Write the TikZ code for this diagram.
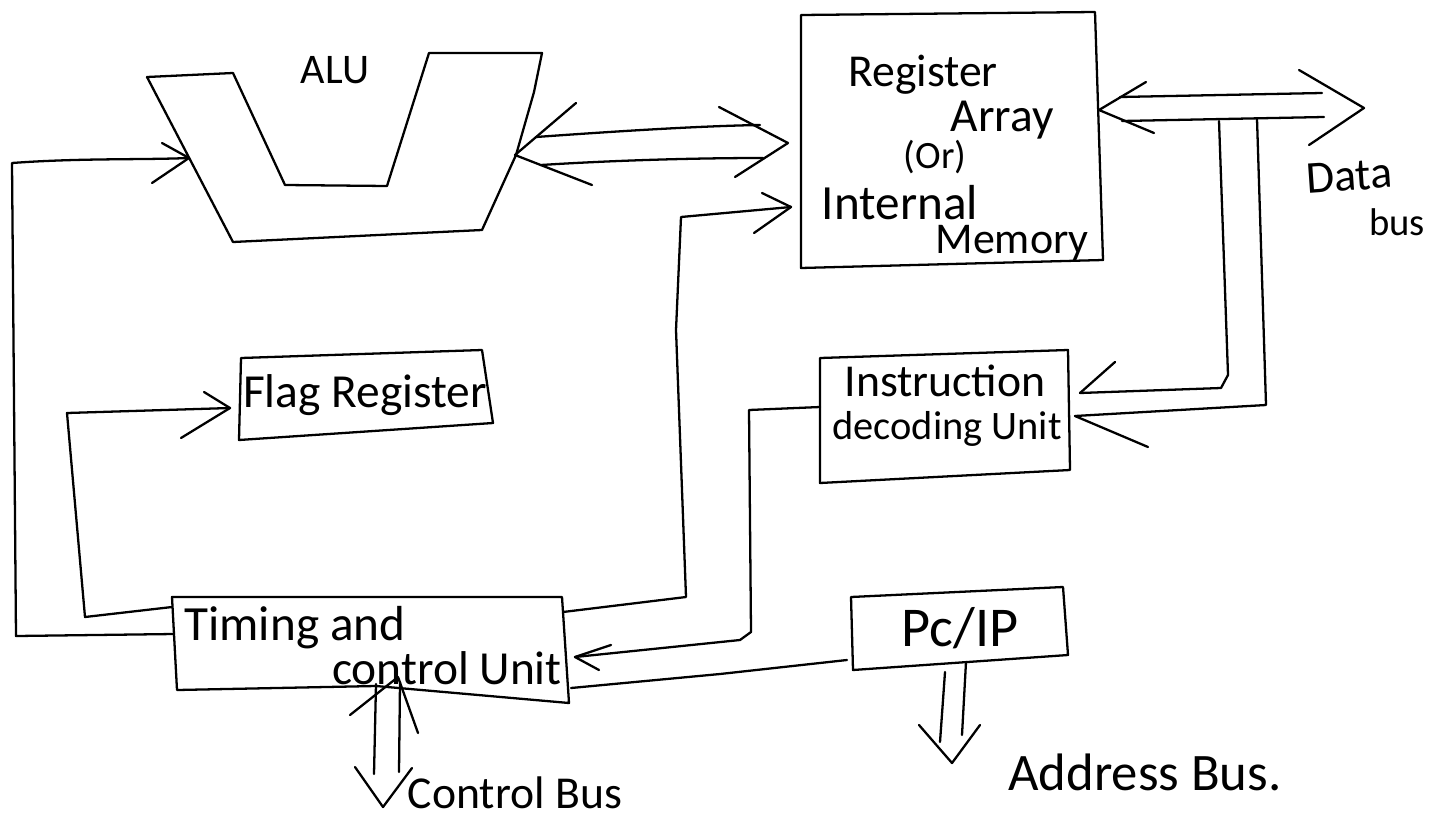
\documentclass[tikz,border=0pt]{standalone}
\usepackage{fontspec}
\setmainfont{Carlito}
\begin{document}
\begin{tikzpicture}[x=0.02cm,y=-0.02cm,
  pen/.style={line width=1.3pt,line join=round,line cap=round},
  lbl/.style={inner sep=0pt,font=\fontsize{#1}{#1}\selectfont},
]
\fill[white] (0,0) rectangle (1439,818);
\useasboundingbox (0,0) rectangle (1439,818);

% ---------- block outlines (corner points, slightly hand-skewed) ----------
% ALU
\coordinate (alu1) at (147,77);  \coordinate (alu2) at (233,73);
\coordinate (alu3) at (285,185); \coordinate (alu4) at (387,186);
\coordinate (alu5) at (429,53);  \coordinate (alu6) at (542,53);
\coordinate (alu7) at (534,92);  \coordinate (aluR) at (516,155);
\coordinate (alu8) at (482,230); \coordinate (alu9) at (233,242);
\coordinate (aluL) at (189,158);
\draw[pen] (alu1) -- (alu2) -- (alu3) -- (alu4) -- (alu5) -- (alu6)
  -- (alu7) -- (aluR) -- (alu8) -- (alu9) -- cycle;

% Register array
\coordinate (reg1) at (801,15);  \coordinate (reg2) at (1095,12);
\coordinate (reg3) at (1103,260); \coordinate (reg4) at (801,268);
\draw[pen] (reg1) -- (reg2) -- (reg3) -- (reg4) -- cycle;

% Flag register
\coordinate (flg1) at (241,358); \coordinate (flg2) at (482,350);
\coordinate (flg3) at (493,423); \coordinate (flg4) at (239,440);
\draw[pen] (flg1) -- (flg2) -- (flg3) -- (flg4) -- cycle;

% Timing and control unit
\coordinate (tcu1) at (172,597); \coordinate (tcu2) at (562,597);
\coordinate (tcu3) at (569,703); \coordinate (tcu5) at (376,686);
\coordinate (tcu4) at (177,690);
\draw[pen] (tcu1) -- (tcu2) -- (tcu3) -- (tcu5) -- (tcu4) -- cycle;

% Instruction decoding unit
\coordinate (idu1) at (820,358); \coordinate (idu2) at (1068,350);
\coordinate (idu3) at (1070,470); \coordinate (idu4) at (820,483);
\draw[pen] (idu1) -- (idu2) -- (idu3) -- (idu4) -- cycle;

% PC / IP
\coordinate (pc1) at (851,597); \coordinate (pc2) at (1063,587);
\coordinate (pc3) at (1068,655); \coordinate (pc4) at (853,670);
\draw[pen] (pc1) -- (pc2) -- (pc3) -- (pc4) -- cycle;

% ---------- labels ----------
\node[lbl=24] (alulbl) at (335,70) {ALU};
\node[lbl=26] (regA) at (923,75) {Register};
\node[lbl=27] (regB) at (1002,120) {Array};
\node[lbl=22] (regC) at (935,157) {(Or)};
\node[lbl=28] (regD) at (900,203) {Internal};
\node[lbl=25] (regE) at (1012,243) {Memory};
\node[lbl=27] (flaglbl) at (365,395) {Flag Register};
\node[lbl=28] (tim1) at (295,628) {Timing and};
\node[lbl=27] (tim2) at (447,668) {control Unit};
\node[lbl=26] (ins1) at (945,381) {Instruction};
\node[lbl=23] (ins2) at (947,429) {decoding Unit};
\node[lbl=32] (pclbl) at (960,628) {Pc/IP};
\node[lbl=30] (addrlbl) at (1145,772) {Address Bus.};
\node[lbl=26] (ctrllbl) at (515,793) {Control Bus};
\node[lbl=26,rotate=4] (data1) at (1349,176) {Data};
\node[lbl=22] (data2) at (1397,222) {bus};

% ---------- ALU <-> register array bus ----------
\coordinate (abL) at (515,155);
\coordinate (abLu) at (576,103); \coordinate (abLd) at (592,185);
\coordinate (abR) at (788,143);
\coordinate (abRu) at (719,107); \coordinate (abRd) at (735,177);
\draw[pen] (abLu) -- (abL) -- (abLd);
\draw[pen] (abRu) -- (abR) -- (abRd);
\coordinate (ab1s) at (536,137); \coordinate (ab1e) at (760,125);
\coordinate (ab2s) at (541,165); \coordinate (ab2e) at (763,158);
\draw[pen] (ab1s) .. controls (620,131) and (700,126) .. (ab1e);
\draw[pen] (ab2s) .. controls (620,160) and (700,158) .. (ab2e);

% ---------- data bus ----------
\coordinate (dbL) at (1099,110);
\coordinate (dbLu) at (1146,82); \coordinate (dbLd) at (1154,133);
\coordinate (dbR) at (1364,108);
\coordinate (dbRu) at (1299,70); \coordinate (dbRd) at (1309,145);
\draw[pen] (dbLu) -- (dbL) -- (dbLd);
\draw[pen] (dbRu) -- (dbR) -- (dbRd);
\coordinate (db1s) at (1120,97);  \coordinate (db1e) at (1322,93);
\coordinate (db2s) at (1122,121); \coordinate (db2e) at (1324,117);
\draw[pen] (db1s) -- (db1e);
\draw[pen] (db2s) -- (db2e);

% data bus down to the instruction decoding unit
\coordinate (dv1) at (1219,121); \coordinate (dv2) at (1257,119);
\coordinate (iduU) at (1080,393); \coordinate (iduUb) at (1115,362);
\coordinate (iduD) at (1075,416); \coordinate (iduDb) at (1148,447);
\draw[pen] (dv1) -- (1228,375) -- (1221,388) -- (iduU);
\draw[pen] (dv2) -- (1266,405) -- (iduD);
\draw[pen] (iduUb) -- (iduU);
\draw[pen] (iduD) -- (iduDb);

% ---------- left loop: timing unit -> ALU ----------
\coordinate (tcuL1) at (174,634);
\coordinate (aluLu) at (162,143); \coordinate (aluLd) at (152,183);
\draw[pen] (tcuL1) -- (16,636) -- (12,163) .. controls (80,158) and (140,160) .. (aluL);
\draw[pen] (aluLu) -- (aluL) -- (aluLd);

% ---------- timing unit -> flag register ----------
\coordinate (tcuL2) at (172,607);
\coordinate (flgL) at (230,408);
\coordinate (flgLu) at (204,392); \coordinate (flgLd) at (181,438);
\draw[pen] (tcuL2) -- (85,617) -- (67,413) -- (flgL);
\draw[pen] (flgLu) -- (flgL) -- (flgLd);

% ---------- timing unit -> register array ----------
\coordinate (tcuR1) at (563,612);
\coordinate (regL) at (791,207);
\coordinate (regLu) at (762,193); \coordinate (regLd) at (754,233);
\draw[pen] (tcuR1) -- (686,597) -- (676,330) -- (681,217) -- (regL);
\draw[pen] (regLu) -- (regL) -- (regLd);

% ---------- instruction decoding unit -> timing unit ----------
\coordinate (iduL) at (820,407);
\coordinate (tcuR2) at (575,657);
\coordinate (tcuR2u) at (611,645); \coordinate (tcuR2d) at (599,670);
\draw[pen] (iduL) -- (749,410) -- (751,632) -- (740,640) -- (tcuR2);
\draw[pen] (tcuR2u) -- (tcuR2) -- (tcuR2d);

% ---------- timing unit -- PC/IP ----------
\coordinate (tcuR3) at (571,688);
\coordinate (pcL) at (847,660);
\draw[pen] (tcuR3) -- (720,674) -- (pcL);

% ---------- address bus ----------
\coordinate (ab1) at (945,672); \coordinate (ab2) at (966,662);
\coordinate (adT) at (952,763);
\coordinate (adL) at (919,725); \coordinate (adR) at (980,725);
\draw[pen] (ab1) -- (940,742);
\draw[pen] (ab2) -- (962,735);
\draw[pen] (adL) -- (adT) -- (adR);

% ---------- control bus ----------
\coordinate (cbU) at (398,677);
\coordinate (cbUl) at (350,715); \coordinate (cbUr) at (418,733);
\coordinate (cbD) at (383,807);
\coordinate (cbDl) at (355,767); \coordinate (cbDr) at (412,768);
\draw[pen] (cbUl) -- (cbU) -- (cbUr);
\draw[pen] (cbDl) -- (cbD) -- (cbDr);
\draw[pen] (376,684) -- (374,774);
\draw[pen] (400,682) -- (399,772);
\end{tikzpicture}
\end{document}
